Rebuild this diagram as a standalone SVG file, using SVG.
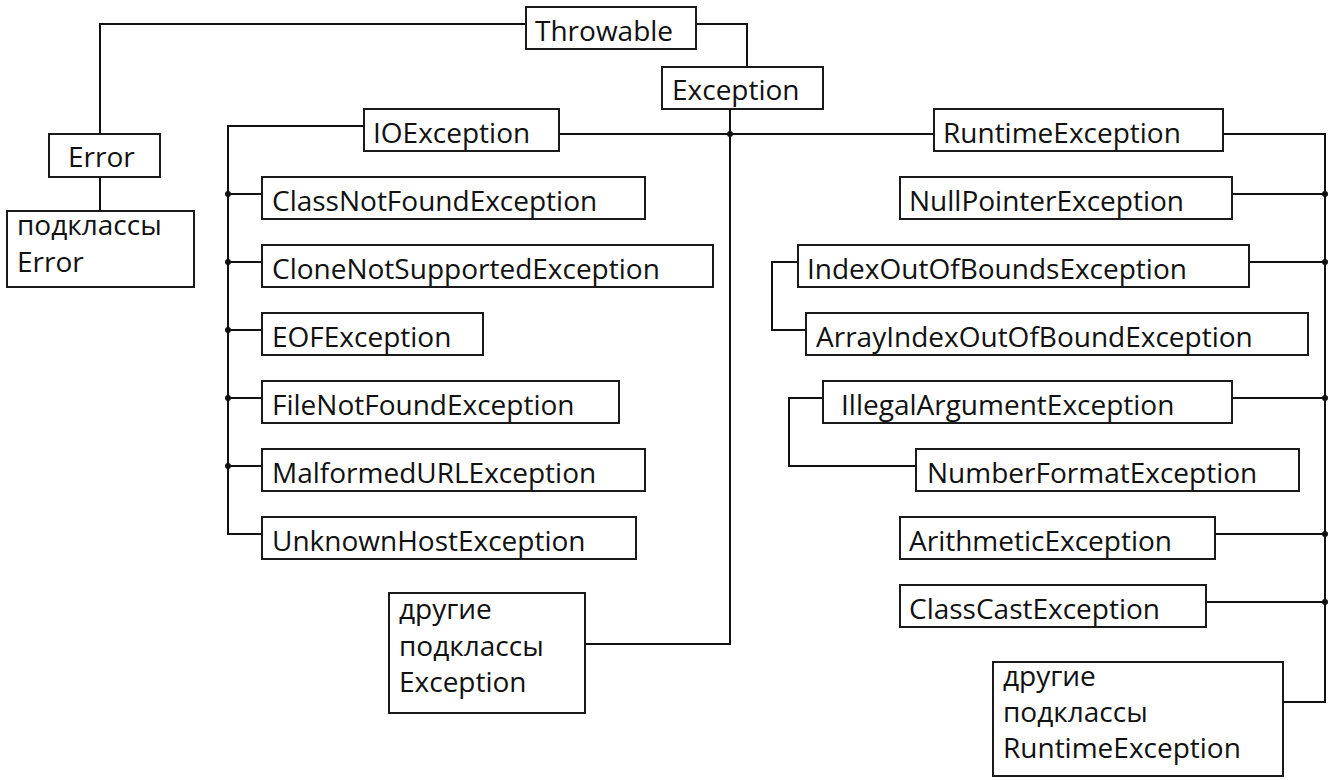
<svg xmlns="http://www.w3.org/2000/svg" width="1332" height="780" viewBox="0 0 1332 780">
<style>
.box{fill:#fff;stroke:#1a1a1a;stroke-width:2}
.t{font-family:"Open Sans","Noto Sans","Liberation Sans",sans-serif;font-size:28px;fill:#111}
.ln{fill:none;stroke:#111;stroke-width:2}
.dot{fill:#111}
</style>
<rect width="1332" height="780" fill="#fff"/>
<g id="connectors">
<path class="ln" d="M526,24 H100 V134"/>
<path class="ln" d="M696,24 H747 V67"/>
<path class="ln" d="M100,177 V211"/>
<path class="ln" d="M730,109 V644 H585"/>
<path class="ln" d="M559,134 H934"/>
<path class="ln" d="M364,126 H228 V534 H262"/>
<path class="ln" d="M228,194 H262 M228,262 H262 M228,330 H262 M228,398 H262 M228,466 H262"/>
<path class="ln" d="M1223,134 H1325 V702 H1283"/>
<path class="ln" d="M1232,194 H1325 M1249,262 H1325 M1232,398 H1325 M1215,534 H1325 M1206,602 H1325"/>
<path class="ln" d="M798,262 H772 V330 H806"/>
<path class="ln" d="M823,398 H789 V466 H916"/>
<circle class="dot" cx="730" cy="134" r="3"/>
<circle class="dot" cx="228" cy="194" r="3"/>
<circle class="dot" cx="228" cy="262" r="3"/>
<circle class="dot" cx="228" cy="330" r="3"/>
<circle class="dot" cx="228" cy="398" r="3"/>
<circle class="dot" cx="228" cy="466" r="3"/>
<circle class="dot" cx="1325" cy="194" r="3"/>
<circle class="dot" cx="1325" cy="262" r="3"/>
<circle class="dot" cx="1325" cy="398" r="3"/>
<circle class="dot" cx="1325" cy="534" r="3"/>
<circle class="dot" cx="1325" cy="602" r="3"/>
</g>
<g id="throwable"><rect class="box" x="526" y="7" width="170" height="42"/><text class="t" x="535" y="41">Throwable</text></g>
<g id="exception"><rect class="box" x="662" y="67" width="161" height="42"/><text class="t" x="672" y="100">Exception</text></g>
<g id="error"><rect class="box" x="49" y="134" width="111" height="43"/><text class="t" x="68" y="167">Error</text></g>
<g id="error-sub"><rect class="box" x="7" y="211" width="187" height="76"/><text class="t" x="17" y="235">подклассы</text><text class="t" x="17" y="272">Error</text></g>
<g id="ioexception"><rect class="box" x="364" y="109" width="195" height="42"/><text class="t" x="373" y="143">IOException</text></g>
<g id="classnotfound"><rect class="box" x="262" y="177" width="383" height="42"/><text class="t" x="272" y="211">ClassNotFoundException</text></g>
<g id="clonenotsupported"><rect class="box" x="262" y="245" width="451" height="42"/><text class="t" x="272" y="279">CloneNotSupportedException</text></g>
<g id="eof"><rect class="box" x="262" y="313" width="221" height="42"/><text class="t" x="272" y="347">EOFException</text></g>
<g id="filenotfound"><rect class="box" x="262" y="381" width="357" height="42"/><text class="t" x="272" y="415">FileNotFoundException</text></g>
<g id="malformedurl"><rect class="box" x="262" y="449" width="383" height="42"/><text class="t" x="272" y="483">MalformedURLException</text></g>
<g id="unknownhost"><rect class="box" x="262" y="517" width="374" height="42"/><text class="t" x="272" y="551">UnknownHostException</text></g>
<g id="exception-sub"><rect class="box" x="389" y="593" width="196" height="120"/><text class="t" x="399" y="619">другие</text><text class="t" x="399" y="656">подклассы</text><text class="t" x="399" y="692">Exception</text></g>
<g id="runtime"><rect class="box" x="934" y="109" width="289" height="42"/><text class="t" x="943" y="143">RuntimeException</text></g>
<g id="nullpointer"><rect class="box" x="900" y="177" width="332" height="42"/><text class="t" x="909" y="211">NullPointerException</text></g>
<g id="indexoutofbounds"><rect class="box" x="798" y="245" width="451" height="42"/><text class="t" x="807" y="279">IndexOutOfBoundsException</text></g>
<g id="arrayindex"><rect class="box" x="806" y="313" width="502" height="42"/><text class="t" x="816" y="347">ArrayIndexOutOfBoundException</text></g>
<g id="illegalargument"><rect class="box" x="823" y="381" width="409" height="42"/><text class="t" x="841" y="415">IllegalArgumentException</text></g>
<g id="numberformat"><rect class="box" x="916" y="449" width="383" height="42"/><text class="t" x="927" y="483">NumberFormatException</text></g>
<g id="arithmetic"><rect class="box" x="900" y="517" width="315" height="42"/><text class="t" x="909" y="551">ArithmeticException</text></g>
<g id="classcast"><rect class="box" x="900" y="585" width="306" height="42"/><text class="t" x="909" y="619">ClassCastException</text></g>
<g id="runtime-sub"><rect class="box" x="993" y="662" width="290" height="114"/><text class="t" x="1003" y="686">другие</text><text class="t" x="1003" y="722">подклассы</text><text class="t" x="1003" y="758">RuntimeException</text></g>
</svg>
